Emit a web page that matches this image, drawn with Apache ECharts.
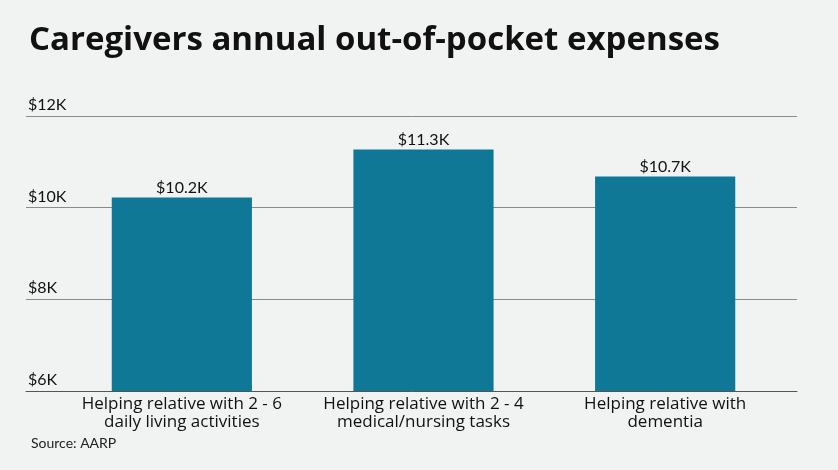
<!DOCTYPE html>
<html><head><meta charset="utf-8">
<script src="https://cdn.jsdelivr.net/npm/echarts@6/dist/echarts.min.js"></script>
<style>html,body{margin:0;padding:0;background:#f1f2f2}#c{width:838px;height:470px}</style>
</head><body><div id="c"></div>
<script>
const categories = ['Helping relative with 2 - 6\ndaily living activities', 'Helping relative with 2 - 4\nmedical/nursing tasks', 'Helping relative with\ndementia'];
const values = [10.22, 11.27, 10.68];
const valueLabels = ['$10.2K', '$11.3K', '$10.7K'];
const yTicks = [6, 8, 10, 12];

const chart = echarts.init(document.getElementById('c'));
const FONT = 'Lato';
const FONT2 = 'Open Sans';
chart.setOption({
  backgroundColor: '#f1f2f2',
  animation: false,
  title: [{
    text: 'Caregivers annual out-of-pocket expenses',
    left: 24, top: 19,
    textStyle: { fontFamily: FONT2, fontWeight: 'bold', fontSize: 33, color: '#111' }
  }, {
    text: 'Source: AARP',
    left: 26, top: 431,
    textStyle: { fontFamily: FONT, fontWeight: 'normal', fontSize: 14, color: '#222' }
  }],
  grid: [
    { left: 26, right: 41, top: 116, bottom: 79 },
    { left: 61, right: 52, top: 116, bottom: 79 }
  ],
  xAxis: [
    { type: 'value', gridIndex: 0, min: 0, max: 1, show: true,
      axisLine: { show: true, lineStyle: { color: '#555', width: 1 } },
      axisTick: { show: false }, axisLabel: { show: false }, splitLine: { show: false } },
    { type: 'category', gridIndex: 1, data: categories,
      axisLine: { show: false }, axisTick: { show: false },
      axisLabel: { fontFamily: FONT2, fontSize: 17, color: '#111', lineHeight: 18, margin: 4, interval: 0 } }
  ],
  yAxis: [
    { type: 'value', gridIndex: 0, min: 6, max: 12, interval: 2,
      axisLine: { show: false }, axisTick: { show: false },
      splitLine: { show: true, lineStyle: { color: '#8a8a8a', width: 1 } },
      axisLabel: { inside: true, margin: 2, verticalAlign: 'bottom', align: 'left', padding: [0,0,3,0],
        fontFamily: FONT, fontSize: 16, color: '#111',
        formatter: v => yTicks.includes(v) ? '$' + v + 'K' : '' } },
    { type: 'value', gridIndex: 1, min: 6, max: 12, interval: 2, show: false }
  ],
  series: [{
    type: 'bar', xAxisIndex: 1, yAxisIndex: 1,
    data: values, barWidth: '58%',
    itemStyle: { color: '#0e7896' },
    label: { show: true, position: 'top', distance: 2, fontFamily: FONT, fontSize: 16, color: '#111',
      formatter: p => valueLabels[p.dataIndex] }
  }]
});
</script></body></html>
